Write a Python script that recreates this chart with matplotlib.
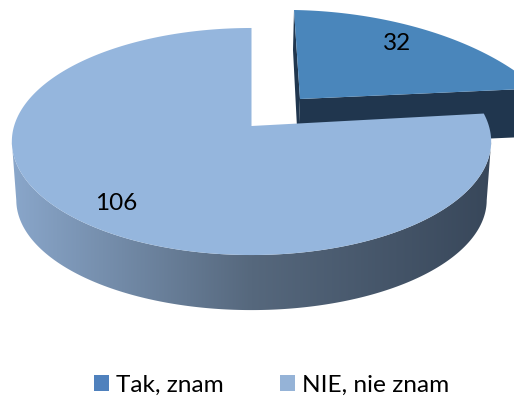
#!/usr/bin/env python
import numpy as np
import matplotlib
matplotlib.use("Agg")
import matplotlib.pyplot as plt
from matplotlib.colors import LinearSegmentedColormap
from matplotlib.patches import Patch, Polygon

labels = ["Tak, znam", "NIE, nie znam"]
values = [32, 106]
colors = ["#4A86BB", "#95B6DD"]
legend_colors = ["#4F81BD", "#95B3D7"]

plt.rcParams["font.family"] = ["Lato", "DejaVu Sans"]


def rim(start, stop, cx, cy, rx, ry, persp=0.1366, shear=0.0, tilt=0.0, n=200):
    # start/stop in degrees clockwise from 12 o'clock, squashed with a bit of perspective
    t = np.radians(np.linspace(start, stop, n))
    x, y = np.sin(t), np.cos(t)
    d = 1 + persp * y
    return np.column_stack([cx + rx * x / d + shear * y, cy - ry * y / d + tilt * x])


def main() -> None:
    fig = plt.figure(figsize=(5.14, 4.01), dpi=100)
    ax = fig.add_axes([0, 0, 1, 1])
    ax.set_xlim(0, 514)
    ax.set_ylim(401, 0)
    ax.axis("off")

    sweep = 360 * values[0] / sum(values)

    # pulled out slice
    apex = np.array([300.0, 99.0])
    edge = rim(0, sweep, apex[0], apex[1], 250, 124.6, persp=0.4, shear=-6, tilt=3)
    dark = "#20364E"
    wall = np.vstack([[apex], edge[-1:], edge[-1:] + [0, 48], [apex + [-2, 48]]])
    ax.add_patch(Polygon(wall, closed=True, fc=dark, ec="none", zorder=1))
    back = np.vstack([edge[:1], [apex], [apex + [-2, 48]], edge[:1] + [-1, 40]])
    ax.add_patch(Polygon(back, closed=True, fc=dark, ec="none", zorder=1))
    ax.add_patch(Polygon(np.vstack([[apex], edge]), closed=True, fc=colors[0], ec="none", zorder=2))

    # side of the big slice, shaded left to right
    upper = rim(98, 262, 251.5, 126, 237.4, 111.4)
    lower = rim(98, 262, 251.5, 185, 233, 108)
    side = Polygon(np.vstack([upper, lower[::-1]]), closed=True, fc="none", ec="none", transform=ax.transData)
    ax.add_patch(side)
    cmap = LinearSegmentedColormap.from_list("side", ["#8AA7CB", "#56687D", "#38475A"])
    img = ax.imshow(np.linspace(0, 1, 256).reshape(1, -1), extent=(10, 493, 320, 130), cmap=cmap,
                    aspect="auto", zorder=3, interpolation="bilinear")
    img.set_clip_path(side)
    ax.set_xlim(0, 514)
    ax.set_ylim(401, 0)

    # top of the big slice
    top = rim(sweep, 360, 251.5, 126, 237.4, 111.4, n=400)
    ax.add_patch(Polygon(np.vstack([[[251.5, 126]], top]), closed=True, fc=colors[1], ec="none", zorder=4))

    ax.text(397, 43, str(values[0]), ha="center", va="center", fontsize=17.5, color="black", zorder=5)
    ax.text(116, 204, str(values[1]), ha="center", va="center", fontsize=17.5, color="black", zorder=5)

    handles = [Patch(fc=c, ec="none") for c in legend_colors]
    ax.legend(handles, labels, ncol=2, loc="center", bbox_to_anchor=(271.5 / 514, 1 - 385 / 401), frameon=False,
              fontsize=17.6, handlelength=0.61, handleheight=0.61, handletextpad=0.29, columnspacing=2.3)

    fig.savefig("out.png", dpi=100)
    plt.close(fig)


if __name__ == "__main__":
    main()
